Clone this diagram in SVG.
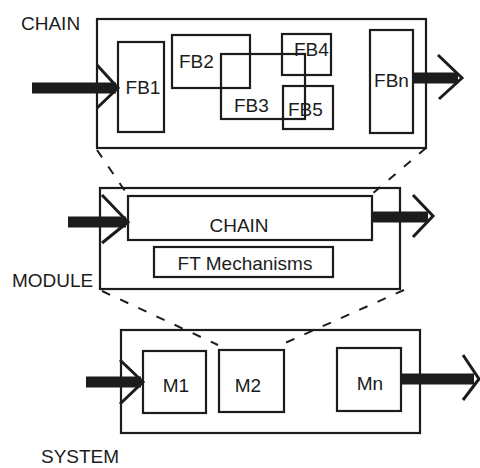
<svg xmlns="http://www.w3.org/2000/svg" width="480" height="468" viewBox="0 0 480 468">
<style>
.box{fill:none;stroke:#1c1c1c;stroke-width:2.2}
.lbl{font-family:"Liberation Sans",Arial,sans-serif;fill:#1c1c1c;font-size:19px}
.bar{stroke:#1c1c1c;stroke-width:11;fill:none}
.chev{stroke:#1c1c1c;stroke-width:3;fill:none}
.dash{stroke:#1c1c1c;stroke-width:2;fill:none;stroke-dasharray:9 11}
</style>
<rect width="480" height="468" fill="#ffffff"/>
<text class="lbl" x="21" y="30">CHAIN</text>
<text class="lbl" x="12" y="287">MODULE</text>
<text class="lbl" x="41" y="463">SYSTEM</text>
<g id="chain">
<rect class="box" x="97" y="19" width="329" height="129"/>
</g>
<g id="fb1">
<rect class="box" x="118" y="42" width="46" height="90"/>
<text class="lbl" x="143" y="94" text-anchor="middle">FB1</text>
</g>
<g id="fb2">
<rect class="box" x="172" y="35" width="78" height="53"/>
<text class="lbl" x="179" y="68">FB2</text>
</g>
<g id="fb3">
<rect class="box" x="221" y="54" width="84" height="65"/>
<text class="lbl" x="234" y="112">FB3</text>
</g>
<g id="fb4">
<rect class="box" x="282" y="34" width="49" height="41"/>
<text class="lbl" x="294" y="56">FB4</text>
</g>
<g id="fb5">
<rect class="box" x="283" y="86" width="50" height="43"/>
<text class="lbl" x="288" y="116">FB5</text>
</g>
<g id="fbn">
<rect class="box" x="370" y="30" width="43" height="103"/>
<text class="lbl" x="391.5" y="87" text-anchor="middle">FBn</text>
</g>
<g id="module">
<rect class="box" x="100" y="188" width="300" height="101"/>
</g>
<g id="module-chain">
<rect class="box" x="128" y="196" width="244" height="44"/>
<text class="lbl" x="239" y="232" text-anchor="middle">CHAIN</text>
</g>
<g id="ft">
<rect class="box" x="154" y="247" width="179" height="30"/>
<text class="lbl" x="245" y="270" text-anchor="middle" font-size="20">FT Mechanisms</text>
</g>
<g id="system">
<rect class="box" x="121" y="330" width="299" height="103"/>
</g>
<g id="m1">
<rect class="box" x="143" y="351" width="63" height="62"/>
<text class="lbl" x="176" y="392" text-anchor="middle">M1</text>
</g>
<g id="m2">
<rect class="box" x="219" y="350" width="65" height="62"/>
<text class="lbl" x="248" y="392" text-anchor="middle">M2</text>
</g>
<g id="mn">
<rect class="box" x="337" y="348" width="64" height="63"/>
<text class="lbl" x="370" y="390" text-anchor="middle">Mn</text>
</g>
<g id="connectors">
<line class="bar" x1="32" y1="88" x2="116" y2="88"/>
<polyline class="chev" points="97,65 118,88 97,108"/>
<line class="bar" x1="413" y1="78" x2="458" y2="78"/>
<polyline class="chev" points="438,55 462,78 439,99"/>
<line class="bar" x1="68" y1="222" x2="126" y2="222"/>
<polyline class="chev" points="102,195 128,222 102,243"/>
<line class="bar" x1="372" y1="217" x2="428" y2="217"/>
<polyline class="chev" points="413,195 433,216 413,237"/>
<line class="bar" x1="86" y1="382" x2="141" y2="382"/>
<polyline class="chev" points="120,360 143,382 120,404"/>
<line class="bar" x1="401" y1="379" x2="474" y2="379"/>
<polyline class="chev" points="463,355 479,379 463,400"/>
<line class="dash" x1="97" y1="150" x2="127" y2="194"/>
<line class="dash" x1="426" y1="148" x2="372" y2="194"/>
<line class="dash" x1="102" y1="291" x2="218" y2="345"/>
<line class="dash" x1="404" y1="290" x2="285" y2="343"/>
</g>
</svg>
